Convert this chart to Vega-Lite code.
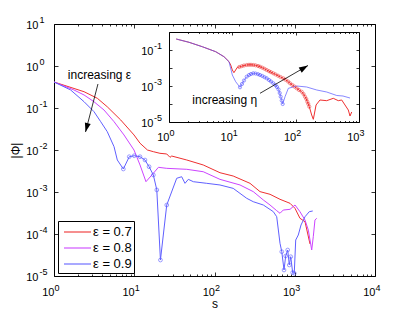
{
  "$schema": "https://vega.github.io/schema/vega-lite/v6.json",
  "width": 321,
  "height": 252,
  "autosize": {"type": "none"},
  "padding": {"left": 54, "top": 24, "right": 40, "bottom": 37},
  "background": "white",
  "config": {
    "view": {"stroke": null},
    "font": "Liberation Sans",
    "axis": {"labelFont": "Liberation Sans", "titleFont": "Liberation Sans", "labelColor": "black", "titleColor": "black", "domainColor": "black", "tickColor": "black", "domainWidth": 1, "tickWidth": 0.8, "grid": false, "labelFlush": false, "labelOverlap": false, "labelBound": false, "titleFontWeight": "normal", "titlePadding": 0},
    "legend": {"labelFont": "Liberation Sans"},
    "text": {"font": "Liberation Sans"}
  },
  "datasets": {
    "main": [
      {"e": "ε = 0.7", "s": 1, "p": 0.416, "m": 0},
      {"e": "ε = 0.7", "s": 2.37, "p": 0.244, "m": 0},
      {"e": "ε = 0.7", "s": 3.47, "p": 0.170, "m": 0},
      {"e": "ε = 0.7", "s": 4.61, "p": 0.107, "m": 0},
      {"e": "ε = 0.7", "s": 6.78, "p": 0.0518, "m": 0},
      {"e": "ε = 0.7", "s": 9.93, "p": 0.0228, "m": 0},
      {"e": "ε = 0.7", "s": 11.8, "p": 0.0145, "m": 0},
      {"e": "ε = 0.7", "s": 14.6, "p": 0.0100, "m": 0},
      {"e": "ε = 0.7", "s": 17.3, "p": 0.00912, "m": 0},
      {"e": "ε = 0.7", "s": 20.9, "p": 0.00834, "m": 0},
      {"e": "ε = 0.7", "s": 25.4, "p": 0.00804, "m": 0},
      {"e": "ε = 0.7", "s": 27.9, "p": 0.00670, "m": 0},
      {"e": "ε = 0.7", "s": 29.3, "p": 0.00719, "m": 0},
      {"e": "ε = 0.7", "s": 45.1, "p": 0.00578, "m": 0},
      {"e": "ε = 0.7", "s": 72.4, "p": 0.00440, "m": 0},
      {"e": "ε = 0.7", "s": 117, "p": 0.00288, "m": 0},
      {"e": "ε = 0.7", "s": 171, "p": 0.00240, "m": 0},
      {"e": "ε = 0.7", "s": 277, "p": 0.00161, "m": 0},
      {"e": "ε = 0.7", "s": 369, "p": 0.00102, "m": 0},
      {"e": "ε = 0.7", "s": 492, "p": 0.000881, "m": 0},
      {"e": "ε = 0.7", "s": 655, "p": 0.000670, "m": 0},
      {"e": "ε = 0.7", "s": 873, "p": 0.000538, "m": 0},
      {"e": "ε = 0.7", "s": 1007, "p": 0.000409, "m": 0},
      {"e": "ε = 0.7", "s": 1161, "p": 0.000237, "m": 0},
      {"e": "ε = 0.7", "s": 1343, "p": 0.000196, "m": 0},
      {"e": "ε = 0.7", "s": 1549, "p": 0.0000578, "m": 0},
      {"e": "ε = 0.8", "s": 1, "p": 0.416, "m": 0},
      {"e": "ε = 0.8", "s": 1.77, "p": 0.269, "m": 0},
      {"e": "ε = 0.8", "s": 2.37, "p": 0.204, "m": 0},
      {"e": "ε = 0.8", "s": 3.15, "p": 0.141, "m": 0},
      {"e": "ε = 0.8", "s": 4.20, "p": 0.0895, "m": 0},
      {"e": "ε = 0.8", "s": 5.60, "p": 0.0472, "m": 0},
      {"e": "ε = 0.8", "s": 7.45, "p": 0.0228, "m": 0},
      {"e": "ε = 0.8", "s": 9.93, "p": 0.0100, "m": 0},
      {"e": "ε = 0.8", "s": 11.8, "p": 0.0044, "m": 0},
      {"e": "ε = 0.8", "s": 14.0, "p": 0.00176, "m": 0},
      {"e": "ε = 0.8", "s": 17.3, "p": 0.00279, "m": 0},
      {"e": "ε = 0.8", "s": 20.0, "p": 0.00387, "m": 0},
      {"e": "ε = 0.8", "s": 25.4, "p": 0.00366, "m": 0},
      {"e": "ε = 0.8", "s": 45.1, "p": 0.00347, "m": 0},
      {"e": "ε = 0.8", "s": 72.4, "p": 0.00304, "m": 0},
      {"e": "ε = 0.8", "s": 117, "p": 0.00200, "m": 0},
      {"e": "ε = 0.8", "s": 208, "p": 0.00147, "m": 0},
      {"e": "ε = 0.8", "s": 304, "p": 0.00102, "m": 0},
      {"e": "ε = 0.8", "s": 406, "p": 0.000646, "m": 0},
      {"e": "ε = 0.8", "s": 492, "p": 0.000490, "m": 0},
      {"e": "ε = 0.8", "s": 596, "p": 0.000359, "m": 0},
      {"e": "ε = 0.8", "s": 655, "p": 0.000311, "m": 0},
      {"e": "ε = 0.8", "s": 719, "p": 0.000372, "m": 0},
      {"e": "ε = 0.8", "s": 873, "p": 0.000387, "m": 0},
      {"e": "ε = 0.8", "s": 1007, "p": 0.000490, "m": 0},
      {"e": "ε = 0.8", "s": 1161, "p": 0.000340, "m": 0},
      {"e": "ε = 0.8", "s": 1343, "p": 0.000215, "m": 0},
      {"e": "ε = 0.8", "s": 1476, "p": 0.000124, "m": 0},
      {"e": "ε = 0.8", "s": 1626, "p": 0.0000416, "m": 0},
      {"e": "ε = 0.8", "s": 1702, "p": 0.0000863, "m": 0},
      {"e": "ε = 0.8", "s": 1786, "p": 0.000215, "m": 0},
      {"e": "ε = 0.8", "s": 1879, "p": 0.000237, "m": 0},
      {"e": "ε = 0.9", "s": 1, "p": 0.416, "m": 0},
      {"e": "ε = 0.9", "s": 1.61, "p": 0.269, "m": 0},
      {"e": "ε = 0.9", "s": 2.37, "p": 0.141, "m": 0},
      {"e": "ε = 0.9", "s": 3.15, "p": 0.0817, "m": 0},
      {"e": "ε = 0.9", "s": 3.82, "p": 0.0472, "m": 0},
      {"e": "ε = 0.9", "s": 4.61, "p": 0.0273, "m": 0},
      {"e": "ε = 0.9", "s": 5.60, "p": 0.0120, "m": 0},
      {"e": "ε = 0.9", "s": 6.15, "p": 0.00578, "m": 0},
      {"e": "ε = 0.9", "s": 7.31, "p": 0.00353, "m": 1},
      {"e": "ε = 0.9", "s": 8.67, "p": 0.00692, "m": 1},
      {"e": "ε = 0.9", "s": 10.0, "p": 0.00731, "m": 1},
      {"e": "ε = 0.9", "s": 11.8, "p": 0.00692, "m": 1},
      {"e": "ε = 0.9", "s": 13.6, "p": 0.00578, "m": 1},
      {"e": "ε = 0.9", "s": 15.3, "p": 0.00400, "m": 1},
      {"e": "ε = 0.9", "s": 17.3, "p": 0.00254, "m": 1},
      {"e": "ε = 0.9", "s": 19.1, "p": 0.00112, "m": 1},
      {"e": "ε = 0.9", "s": 21.2, "p": 0.0000240, "m": 1},
      {"e": "ε = 0.9", "s": 25.4, "p": 0.00049, "m": 1},
      {"e": "ε = 0.9", "s": 33.8, "p": 0.00212, "m": 0},
      {"e": "ε = 0.9", "s": 39.0, "p": 0.00231, "m": 0},
      {"e": "ε = 0.9", "s": 42.9, "p": 0.00161, "m": 0},
      {"e": "ε = 0.9", "s": 47.2, "p": 0.00200, "m": 0},
      {"e": "ε = 0.9", "s": 54.5, "p": 0.00176, "m": 0},
      {"e": "ε = 0.9", "s": 80.0, "p": 0.00161, "m": 0},
      {"e": "ε = 0.9", "s": 117, "p": 0.00147, "m": 0},
      {"e": "ε = 0.9", "s": 171, "p": 0.00122, "m": 0},
      {"e": "ε = 0.9", "s": 252, "p": 0.000708, "m": 0},
      {"e": "ε = 0.9", "s": 304, "p": 0.000587, "m": 0},
      {"e": "ε = 0.9", "s": 406, "p": 0.000490, "m": 0},
      {"e": "ε = 0.9", "s": 541, "p": 0.000340, "m": 0},
      {"e": "ε = 0.9", "s": 596, "p": 0.000258, "m": 0},
      {"e": "ε = 0.9", "s": 655, "p": 0.0000601, "m": 0},
      {"e": "ε = 0.9", "s": 689, "p": 0.0000379, "m": 1},
      {"e": "ε = 0.9", "s": 735, "p": 0.0000139, "m": 1},
      {"e": "ε = 0.9", "s": 771, "p": 0.0000299, "m": 1},
      {"e": "ε = 0.9", "s": 817, "p": 0.0000416, "m": 1},
      {"e": "ε = 0.9", "s": 855, "p": 0.0000183, "m": 1},
      {"e": "ε = 0.9", "s": 891, "p": 0.0000288, "m": 1},
      {"e": "ε = 0.9", "s": 942, "p": 0.0000121, "m": 1},
      {"e": "ε = 0.9", "s": 986, "p": 0.0000116, "m": 1},
      {"e": "ε = 0.9", "s": 1028, "p": 0.0000719, "m": 0},
      {"e": "ε = 0.9", "s": 1107, "p": 0.0000946, "m": 0},
      {"e": "ε = 0.9", "s": 1197, "p": 0.000164, "m": 0},
      {"e": "ε = 0.9", "s": 1343, "p": 0.000258, "m": 0},
      {"e": "ε = 0.9", "s": 1517, "p": 0.000340, "m": 0},
      {"e": "ε = 0.9", "s": 1675, "p": 0.000353, "m": 0}
    ],
    "inset": [
      {"k": "r", "s": 1.30, "p": 0.408, "m": 0},
      {"k": "r", "s": 2.07, "p": 0.268, "m": 0},
      {"k": "r", "s": 3.36, "p": 0.152, "m": 0},
      {"k": "r", "s": 5.46, "p": 0.0805, "m": 0},
      {"k": "r", "s": 7.38, "p": 0.0425, "m": 0},
      {"k": "r", "s": 8.86, "p": 0.0224, "m": 0},
      {"k": "r", "s": 9.42, "p": 0.0147, "m": 0},
      {"k": "r", "s": 10.0, "p": 0.00774, "m": 0},
      {"k": "r", "s": 10.6, "p": 0.00548, "m": 0},
      {"k": "r", "s": 12.0, "p": 0.0109, "m": 0},
      {"k": "r", "s": 12.88, "p": 0.01137, "m": 1},
      {"k": "r", "s": 14.06, "p": 0.01259, "m": 1},
      {"k": "r", "s": 15.29, "p": 0.01377, "m": 1},
      {"k": "r", "s": 16.87, "p": 0.01468, "m": 1},
      {"k": "r", "s": 18.33, "p": 0.01507, "m": 1},
      {"k": "r", "s": 19.72, "p": 0.01507, "m": 1},
      {"k": "r", "s": 21.43, "p": 0.01468, "m": 1},
      {"k": "r", "s": 23.22, "p": 0.01413, "m": 1},
      {"k": "r", "s": 25.43, "p": 0.01292, "m": 1},
      {"k": "r", "s": 27.35, "p": 0.01181, "m": 1},
      {"k": "r", "s": 29.74, "p": 0.01040, "m": 1},
      {"k": "r", "s": 32.21, "p": 0.00903, "m": 1},
      {"k": "r", "s": 34.90, "p": 0.00774, "m": 1},
      {"k": "r", "s": 37.93, "p": 0.00664, "m": 1},
      {"k": "r", "s": 40.80, "p": 0.00585, "m": 1},
      {"k": "r", "s": 44.36, "p": 0.00508, "m": 1},
      {"k": "r", "s": 48.06, "p": 0.00441, "m": 1},
      {"k": "r", "s": 52.62, "p": 0.00374, "m": 1},
      {"k": "r", "s": 57.64, "p": 0.00316, "m": 1},
      {"k": "r", "s": 63.83, "p": 0.00268, "m": 1},
      {"k": "r", "s": 69.14, "p": 0.00221, "m": 1},
      {"k": "r", "s": 75.73, "p": 0.00178, "m": 1},
      {"k": "r", "s": 81.43, "p": 0.00141, "m": 1},
      {"k": "r", "s": 88.55, "p": 0.001137, "m": 1},
      {"k": "r", "s": 95.90, "p": 0.000926, "m": 1},
      {"k": "r", "s": 103.8, "p": 0.000745, "m": 1},
      {"k": "r", "s": 112.9, "p": 0.000600, "m": 1},
      {"k": "r", "s": 124.5, "p": 0.000482, "m": 1},
      {"k": "r", "s": 133.0, "p": 0.000360, "m": 1},
      {"k": "r", "s": 140.3, "p": 0.000255, "m": 1},
      {"k": "r", "s": 147.2, "p": 0.000190, "m": 1},
      {"k": "r", "s": 152.7, "p": 0.000134, "m": 1},
      {"k": "r", "s": 158.4, "p": 0.0001, "m": 1},
      {"k": "r", "s": 164.1, "p": 0.0000708, "m": 1},
      {"k": "r", "s": 179, "p": 0.0000245, "m": 0},
      {"k": "r", "s": 190, "p": 0.0000141, "m": 0},
      {"k": "r", "s": 210, "p": 0.0000880, "m": 0},
      {"k": "r", "s": 242, "p": 0.000167, "m": 0},
      {"k": "r", "s": 309, "p": 0.000153, "m": 0},
      {"k": "r", "s": 393, "p": 0.000207, "m": 0},
      {"k": "r", "s": 471, "p": 0.000153, "m": 0},
      {"k": "r", "s": 533, "p": 0.000167, "m": 0},
      {"k": "r", "s": 601, "p": 0.0000880, "m": 0},
      {"k": "r", "s": 678, "p": 0.0000464, "m": 0},
      {"k": "r", "s": 721, "p": 0.0000215, "m": 0},
      {"k": "r", "s": 767, "p": 0.0000360, "m": 0},
      {"k": "b", "s": 1.30, "p": 0.408, "m": 0},
      {"k": "b", "s": 2.07, "p": 0.268, "m": 0},
      {"k": "b", "s": 3.36, "p": 0.152, "m": 0},
      {"k": "b", "s": 5.46, "p": 0.0805, "m": 0},
      {"k": "b", "s": 7.38, "p": 0.0425, "m": 0},
      {"k": "b", "s": 8.86, "p": 0.0224, "m": 0},
      {"k": "b", "s": 10.0, "p": 0.00408, "m": 0},
      {"k": "b", "s": 11.3, "p": 0.00173, "m": 0},
      {"k": "b", "s": 13.21, "p": 0.000847, "m": 1},
      {"k": "b", "s": 14.21, "p": 0.001291, "m": 1},
      {"k": "b", "s": 15.29, "p": 0.002020, "m": 1},
      {"k": "b", "s": 16.87, "p": 0.003289, "m": 1},
      {"k": "b", "s": 18.33, "p": 0.004083, "m": 1},
      {"k": "b", "s": 19.72, "p": 0.004642, "m": 1},
      {"k": "b", "s": 21.43, "p": 0.005077, "m": 1},
      {"k": "b", "s": 23.22, "p": 0.004945, "m": 1},
      {"k": "b", "s": 25.43, "p": 0.004525, "m": 1},
      {"k": "b", "s": 27.35, "p": 0.004083, "m": 1},
      {"k": "b", "s": 29.74, "p": 0.003594, "m": 1},
      {"k": "b", "s": 32.21, "p": 0.003084, "m": 1},
      {"k": "b", "s": 34.90, "p": 0.002679, "m": 1},
      {"k": "b", "s": 37.93, "p": 0.002154, "m": 1},
      {"k": "b", "s": 40.80, "p": 0.001778, "m": 1},
      {"k": "b", "s": 44.36, "p": 0.001413, "m": 1},
      {"k": "b", "s": 48.06, "p": 0.001107, "m": 1},
      {"k": "b", "s": 50.73, "p": 0.000880, "m": 1},
      {"k": "b", "s": 53.59, "p": 0.000640, "m": 1},
      {"k": "b", "s": 55.98, "p": 0.000408, "m": 1},
      {"k": "b", "s": 58.03, "p": 0.000255, "m": 1},
      {"k": "b", "s": 60.22, "p": 0.000156, "m": 1},
      {"k": "b", "s": 62.40, "p": 0.0001, "m": 1},
      {"k": "b", "s": 68.0, "p": 0.000255, "m": 0},
      {"k": "b", "s": 76.6, "p": 0.000745, "m": 0},
      {"k": "b", "s": 104, "p": 0.001, "m": 0},
      {"k": "b", "s": 149, "p": 0.00088, "m": 0},
      {"k": "b", "s": 215, "p": 0.0006, "m": 0},
      {"k": "b", "s": 309, "p": 0.000464, "m": 0},
      {"k": "b", "s": 445, "p": 0.000297, "m": 0},
      {"k": "b", "s": 559, "p": 0.000278, "m": 0},
      {"k": "b", "s": 721, "p": 0.000215, "m": 0}
    ],
    "arrows": [
      {"a": 1, "s": 3.53, "p": 0.373, "o": 0},
      {"a": 1, "s": 2.47, "p": 0.0268, "o": 1},
      {"a": 2, "s": 27.35, "p": 0.000393, "o": 0},
      {"a": 2, "s": 156.6, "p": 0.01377, "o": 1}
    ],
    "notes": [
      {"t": "increasing ε", "s": 3.69, "p": 0.490, "w": "main"},
      {"t": "increasing η", "s": 7.58, "p": 0.0001, "w": "inset"}
    ]
  },
  "resolve": {"scale": {"x": "independent", "y": "independent"}, "axis": {"x": "independent", "y": "independent"}},
  "layer": [
    {
      "data": {"name": "main"},
      "mark": {"type": "line", "strokeWidth": 1},
      "encoding": {
        "x": {"field": "s", "type": "quantitative", "scale": {"type": "log", "domain": [1, 10000], "nice": false},
          "axis": {"orient": "bottom", "values": [1, 10, 100, 1000, 10000], "ticks": false, "domain": false, "labelExpr": "'10'", "labelAlign": "right", "labelBaseline": "alphabetic", "labelPadding": 19, "labelFontSize": 11, "title": "s", "titleFontSize": 12, "titleY": 31, "titleBaseline": "alphabetic"}},
        "y": {"field": "p", "type": "quantitative", "scale": {"type": "log", "domain": [0.00001, 10], "nice": false},
          "axis": {"orient": "left", "values": [0.00001, 0.0001, 0.001, 0.01, 0.1, 1, 10], "ticks": false, "domain": false, "labelExpr": "'10'", "labelAlign": "right", "labelBaseline": "alphabetic", "labelOffset": 4.5, "labelPadding": 16, "labelFontSize": 11, "title": "|Φ|", "titleFontSize": 12, "titleX": -35, "titleBaseline": "alphabetic"}},
        "color": {"field": "e", "type": "nominal", "scale": {"domain": ["ε = 0.7", "ε = 0.8", "ε = 0.9"], "range": ["#ee3030", "#cc44ff", "#6060ff"]},
          "legend": {"title": null, "orient": "bottom-left", "offset": 3.5, "padding": 2, "strokeColor": "black", "fillColor": "white", "symbolType": "M-0.556,-0.06H2.444V0.06H-0.556Z", "symbolSize": 324, "symbolStrokeWidth": 0, "symbolOpacity": 1, "labelFontSize": 13, "labelOffset": 15, "rowPadding": 0, "labelColor": "black",
            "encode": {"symbols": {"update": {"fill": {"scale": "color", "field": "value"}, "fillOpacity": {"value": 1}, "strokeWidth": {"value": 0}}}}}}
      }
    },
    {
      "data": {"name": "main"},
      "transform": [{"filter": "datum.m == 1"}],
      "mark": {"type": "point", "shape": "circle", "filled": false, "color": "#6060ff", "size": 14, "strokeWidth": 0.9},
      "encoding": {
        "x": {"field": "s", "type": "quantitative", "scale": {"type": "log", "domain": [1, 10000], "nice": false},
          "axis": {"orient": "bottom", "values": [1, 10, 100, 1000, 10000], "ticks": false, "domain": false, "labelExpr": "'' + round(log(datum.value)/LN10)", "labelAlign": "left", "labelBaseline": "alphabetic", "labelPadding": 14.5, "labelFontSize": 9, "title": null}},
        "y": {"field": "p", "type": "quantitative", "scale": {"type": "log", "domain": [0.00001, 10], "nice": false},
          "axis": {"orient": "left", "values": [0.00001, 0.0001, 0.001, 0.01, 0.1, 1, 10], "ticks": false, "domain": false, "labelExpr": "'' + round(log(datum.value)/LN10)", "labelAlign": "left", "labelBaseline": "alphabetic", "labelOffset": -1.5, "labelPadding": 15, "labelFontSize": 9, "title": null}}
      }
    },
    {
      "data": {"name": "arrows"},
      "transform": [{"filter": "datum.a == 1"}],
      "mark": {"type": "line", "color": "black", "strokeWidth": 0.8},
      "encoding": {
        "x": {"field": "s", "type": "quantitative", "scale": {"type": "log", "domain": [1, 10000], "nice": false},
          "axis": {"orient": "bottom", "values": [1, 10, 100, 1000, 10000], "labels": false, "tickSize": -4, "domain": true, "title": null}},
        "y": {"field": "p", "type": "quantitative", "scale": {"type": "log", "domain": [0.00001, 10], "nice": false},
          "axis": {"orient": "left", "values": [0.00001, 0.0001, 0.001, 0.01, 0.1, 1, 10], "labels": false, "tickSize": -4, "domain": true, "title": null}},
        "order": {"field": "o", "type": "quantitative"}
      }
    },
    {
      "data": {"name": "arrows"},
      "transform": [{"filter": "datum.a == 1 && datum.o == 1"}],
      "mark": {"type": "point", "shape": "M0,0L-0.4,1.2L0.4,1.2Z", "filled": true, "color": "black", "size": 225, "angle": 194.6, "strokeWidth": 0, "opacity": 1},
      "encoding": {
        "x": {"field": "s", "type": "quantitative", "scale": {"type": "log", "domain": [1, 10000], "nice": false},
          "axis": {"orient": "bottom", "values": [2, 3, 4, 5, 6, 7, 8, 9, 20, 30, 40, 50, 60, 70, 80, 90, 200, 300, 400, 500, 600, 700, 800, 900, 2000, 3000, 4000, 5000, 6000, 7000, 8000, 9000], "labels": false, "tickSize": -2, "domain": false, "title": null}},
        "y": {"field": "p", "type": "quantitative", "scale": {"type": "log", "domain": [0.00001, 10], "nice": false},
          "axis": {"orient": "right", "values": [0.00001, 0.0001, 0.001, 0.01, 0.1, 1, 10], "labels": false, "tickSize": -4, "domain": true, "title": null}}
      }
    },
    {
      "data": {"name": "notes"},
      "transform": [{"filter": "datum.w == 'main'"}],
      "mark": {"type": "text", "fontSize": 12, "align": "center", "baseline": "alphabetic", "color": "black"},
      "encoding": {
        "x": {"field": "s", "type": "quantitative", "scale": {"type": "log", "domain": [1, 10000], "nice": false},
          "axis": {"orient": "top", "values": [1, 10, 100, 1000, 10000], "labels": false, "tickSize": -4, "domain": true, "title": null}},
        "y": {"field": "p", "type": "quantitative", "scale": {"type": "log", "domain": [0.00001, 10], "nice": false}, "axis": null},
        "text": {"field": "t"}
      }
    },
    {
      "data": {"name": "arrows"},
      "transform": [{"filter": "datum.a == 1"}],
      "mark": {"type": "point", "opacity": 0},
      "encoding": {
        "x": {"field": "s", "type": "quantitative", "scale": {"type": "log", "domain": [1, 10000], "nice": false},
          "axis": {"orient": "top", "values": [2, 3, 4, 5, 6, 7, 8, 9, 20, 30, 40, 50, 60, 70, 80, 90, 200, 300, 400, 500, 600, 700, 800, 900, 2000, 3000, 4000, 5000, 6000, 7000, 8000, 9000], "labels": false, "tickSize": -2, "domain": false, "title": null}},
        "y": {"field": "p", "type": "quantitative", "scale": {"type": "log", "domain": [0.00001, 10], "nice": false}, "axis": null}
      }
    },
    {
      "data": {"name": "inset"},
      "transform": [{"filter": "datum.k == 'r'"}],
      "mark": {"type": "line", "color": "#ee3030", "strokeWidth": 1},
      "encoding": {
        "x": {"field": "s", "type": "quantitative", "scale": {"type": "log", "domain": [1, 1000], "range": [115, 305], "nice": false},
          "axis": {"orient": "bottom", "offset": -154, "values": [1, 10, 100, 1000], "ticks": false, "domain": false, "labelExpr": "'10'", "labelAlign": "right", "labelBaseline": "alphabetic", "labelPadding": 18, "labelFontSize": 11, "title": null}},
        "y": {"field": "p", "type": "quantitative", "scale": {"type": "log", "domain": [0.00001, 1], "range": [98, 8], "nice": false},
          "axis": {"orient": "left", "offset": -115, "values": [0.00001, 0.0001, 0.001, 0.01, 0.1, 1], "ticks": false, "domain": false, "labelExpr": "round(log(datum.value)/LN10) % 2 == 0 ? '' : '10'", "labelAlign": "right", "labelBaseline": "alphabetic", "labelOffset": 4.5, "labelPadding": 16, "labelFontSize": 11, "title": null}}
      }
    },
    {
      "data": {"name": "inset"},
      "transform": [{"filter": "datum.k == 'b'"}],
      "mark": {"type": "line", "color": "#6060ff", "strokeWidth": 1, "opacity": 0.75},
      "encoding": {
        "x": {"field": "s", "type": "quantitative", "scale": {"type": "log", "domain": [1, 1000], "range": [115, 305], "nice": false},
          "axis": {"orient": "bottom", "offset": -154, "values": [1, 10, 100, 1000], "ticks": false, "domain": false, "labelExpr": "'' + round(log(datum.value)/LN10)", "labelAlign": "left", "labelBaseline": "alphabetic", "labelPadding": 13, "labelFontSize": 9, "title": null}},
        "y": {"field": "p", "type": "quantitative", "scale": {"type": "log", "domain": [0.00001, 1], "range": [98, 8], "nice": false},
          "axis": {"orient": "left", "offset": -115, "values": [0.00001, 0.0001, 0.001, 0.01, 0.1, 1], "ticks": false, "domain": false, "labelExpr": "round(log(datum.value)/LN10) % 2 == 0 ? '' : '' + round(log(datum.value)/LN10)", "labelAlign": "left", "labelBaseline": "alphabetic", "labelOffset": -1.5, "labelPadding": 15.5, "labelFontSize": 9, "title": null}}
      }
    },
    {
      "data": {"name": "inset"},
      "transform": [{"filter": "datum.k == 'r' && datum.m == 1"}],
      "mark": {"type": "point", "shape": "circle", "filled": false, "color": "#ee3030", "size": 10, "strokeWidth": 0.8},
      "encoding": {
        "x": {"field": "s", "type": "quantitative", "scale": {"type": "log", "domain": [1, 1000], "range": [115, 305], "nice": false},
          "axis": {"orient": "bottom", "offset": -154, "values": [1, 10, 100, 1000], "labels": false, "tickSize": -3, "domain": true, "title": null}},
        "y": {"field": "p", "type": "quantitative", "scale": {"type": "log", "domain": [0.00001, 1], "range": [98, 8], "nice": false},
          "axis": {"orient": "left", "offset": -115, "values": [0.00001, 0.0001, 0.001, 0.01, 0.1, 1], "labels": false, "tickSize": -3, "domain": true, "title": null}}
      }
    },
    {
      "data": {"name": "inset"},
      "transform": [{"filter": "datum.k == 'b' && datum.m == 1"}],
      "mark": {"type": "point", "shape": "circle", "filled": false, "color": "#6060ff", "size": 10, "strokeWidth": 0.8, "opacity": 0.85},
      "encoding": {
        "x": {"field": "s", "type": "quantitative", "scale": {"type": "log", "domain": [1, 1000], "range": [115, 305], "nice": false},
          "axis": {"orient": "bottom", "offset": -154, "values": [2, 3, 4, 5, 6, 7, 8, 9, 20, 30, 40, 50, 60, 70, 80, 90, 200, 300, 400, 500, 600, 700, 800, 900], "labels": false, "tickSize": -1.5, "domain": false, "title": null}},
        "y": {"field": "p", "type": "quantitative", "scale": {"type": "log", "domain": [0.00001, 1], "range": [98, 8], "nice": false},
          "axis": {"orient": "right", "offset": -16, "values": [0.00001, 0.0001, 0.001, 0.01, 0.1, 1], "labels": false, "tickSize": -3, "domain": true, "title": null}}
      }
    },
    {
      "data": {"name": "arrows"},
      "transform": [{"filter": "datum.a == 2"}],
      "mark": {"type": "line", "color": "black", "strokeWidth": 0.8},
      "encoding": {
        "x": {"field": "s", "type": "quantitative", "scale": {"type": "log", "domain": [1, 1000], "range": [115, 305], "nice": false},
          "axis": {"orient": "top", "offset": -8, "values": [1, 10, 100, 1000], "labels": false, "tickSize": -3, "domain": true, "title": null}},
        "y": {"field": "p", "type": "quantitative", "scale": {"type": "log", "domain": [0.00001, 1], "range": [98, 8], "nice": false}, "axis": null},
        "order": {"field": "o", "type": "quantitative"}
      }
    },
    {
      "data": {"name": "arrows"},
      "transform": [{"filter": "datum.a == 2 && datum.o == 1"}],
      "mark": {"type": "point", "shape": "M0,0L-0.4,1.2L0.4,1.2Z", "filled": true, "color": "black", "size": 225, "angle": 59.7, "strokeWidth": 0, "opacity": 1},
      "encoding": {
        "x": {"field": "s", "type": "quantitative", "scale": {"type": "log", "domain": [1, 1000], "range": [115, 305], "nice": false},
          "axis": {"orient": "top", "offset": -8, "values": [2, 3, 4, 5, 6, 7, 8, 9, 20, 30, 40, 50, 60, 70, 80, 90, 200, 300, 400, 500, 600, 700, 800, 900], "labels": false, "tickSize": -1.5, "domain": false, "title": null}},
        "y": {"field": "p", "type": "quantitative", "scale": {"type": "log", "domain": [0.00001, 1], "range": [98, 8], "nice": false}, "axis": null}
      }
    },
    {
      "data": {"name": "notes"},
      "transform": [{"filter": "datum.w == 'inset'"}],
      "mark": {"type": "text", "fontSize": 12, "align": "center", "baseline": "alphabetic", "color": "black"},
      "encoding": {
        "x": {"field": "s", "type": "quantitative", "scale": {"type": "log", "domain": [1, 1000], "range": [115, 305], "nice": false}, "axis": null},
        "y": {"field": "p", "type": "quantitative", "scale": {"type": "log", "domain": [0.00001, 1], "range": [98, 8], "nice": false}, "axis": null},
        "text": {"field": "t"}
      }
    }
  ]
}
